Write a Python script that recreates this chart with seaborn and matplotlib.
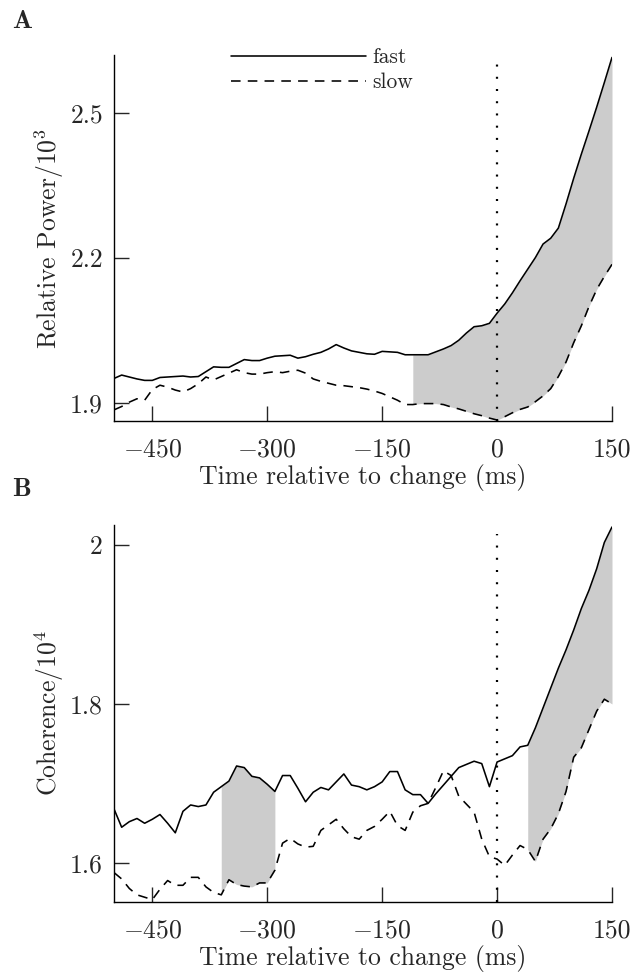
import numpy as np
import pandas as pd
import matplotlib
matplotlib.use("Agg")
import matplotlib.pyplot as plt
import seaborn as sns

# ---------------- data ----------------
time_ms = list(range(-500, 151, 10))

power_fast = [1.951, 1.958, 1.954, 1.950, 1.947, 1.947, 1.953, 1.954, 1.955, 1.956,
              1.954, 1.955, 1.965, 1.975, 1.974, 1.974, 1.982, 1.990, 1.988, 1.988,
              1.993, 1.997, 1.998, 1.999, 1.993, 1.996, 2.001, 2.005, 2.012, 2.021,
              2.014, 2.008, 2.005, 2.002, 2.001, 2.007, 2.006, 2.005, 2.000, 2.000,
              2.000, 2.000, 2.006, 2.012, 2.019, 2.030, 2.045, 2.058, 2.060, 2.065,
              2.086, 2.105, 2.128, 2.153, 2.177, 2.201, 2.229, 2.241, 2.262, 2.312,
              2.365, 2.415, 2.463, 2.512, 2.563, 2.615]
power_slow = [1.886, 1.893, 1.902, 1.909, 1.906, 1.928, 1.937, 1.933, 1.927, 1.923,
              1.930, 1.940, 1.954, 1.948, 1.955, 1.962, 1.969, 1.963, 1.960, 1.960,
              1.963, 1.965, 1.963, 1.966, 1.968, 1.962, 1.950, 1.945, 1.941, 1.937,
              1.936, 1.934, 1.932, 1.929, 1.925, 1.920, 1.913, 1.906, 1.897, 1.897,
              1.899, 1.899, 1.899, 1.897, 1.892, 1.888, 1.883, 1.878, 1.874, 1.869,
              1.865, 1.872, 1.880, 1.887, 1.892, 1.903, 1.915, 1.930, 1.955, 1.985,
              2.025, 2.060, 2.100, 2.135, 2.162, 2.187]

coh_fast = [1.668, 1.645, 1.652, 1.656, 1.650, 1.655, 1.661, 1.650, 1.638, 1.665,
            1.673, 1.671, 1.673, 1.689, 1.696, 1.703, 1.722, 1.720, 1.709, 1.707,
            1.699, 1.690, 1.710, 1.710, 1.694, 1.677, 1.689, 1.695, 1.692, 1.702,
            1.712, 1.698, 1.696, 1.692, 1.696, 1.702, 1.715, 1.715, 1.692, 1.686,
            1.686, 1.675, 1.687, 1.698, 1.709, 1.720, 1.724, 1.728, 1.725, 1.696,
            1.727, 1.731, 1.735, 1.746, 1.748, 1.770, 1.795, 1.820, 1.845, 1.868,
            1.893, 1.920, 1.943, 1.970, 2.003, 2.0225]
coh_slow = [1.588, 1.580, 1.568, 1.560, 1.557, 1.554, 1.567, 1.578, 1.572, 1.572,
            1.582, 1.582, 1.570, 1.563, 1.560, 1.579, 1.573, 1.571, 1.570, 1.575,
            1.575, 1.591, 1.625, 1.631, 1.624, 1.620, 1.621, 1.641, 1.648, 1.655,
            1.643, 1.633, 1.630, 1.641, 1.646, 1.655, 1.665, 1.647, 1.641, 1.664,
            1.672, 1.675, 1.695, 1.716, 1.710, 1.684, 1.674, 1.664, 1.630, 1.608,
            1.605, 1.597, 1.610, 1.622, 1.617, 1.602, 1.630, 1.643, 1.662, 1.690,
            1.733, 1.745, 1.768, 1.791, 1.806, 1.800]

# significant windows (ms)
power_sig = [(-110, 150)]
coh_sig = [(-360, -290), (40, 150)]

x_ticks = [-450, -300, -150, 0, 150]
power_yticks = [1.9, 2.2, 2.5]
coh_yticks = [1.6, 1.8, 2.0]
power_ylim = (1.863, 2.62)
coh_ylim = (1.551, 2.025)

# ---------------- style ----------------
sns.set_style("ticks")
plt.rcParams["font.family"] = ["cmr10", "DejaVu Serif"]
plt.rcParams["mathtext.fontset"] = "cm"
plt.rcParams["axes.formatter.use_mathtext"] = True
plt.rcParams["axes.unicode_minus"] = True

FS = 18.5

fig = plt.figure(figsize=(6.36, 9.76), dpi=100)
axA = fig.add_axes([114/636, 1-421/976, (612-114)/636, (421-55)/976])
axB = fig.add_axes([114/636, 1-902/976, (612-114)/636, (902-525)/976])

def draw(ax, fast, slow, sig, yticks, ylim, ylabel, ytfmt, legend):
    df = pd.DataFrame({"t": time_ms, "fast": fast, "slow": slow})
    t = np.array(time_ms)
    f = np.array(fast)
    s = np.array(slow)
    for a, b in sig:
        m = (t >= a) & (t <= b)
        ax.fill_between(t[m], s[m], f[m], color="#cccccc", lw=0, zorder=1)
    sns.lineplot(data=df, x="t", y="fast", color="black", lw=1.15, ax=ax,
                 label="fast" if legend else None, zorder=3)
    sns.lineplot(data=df, x="t", y="slow", color="black", lw=1.15, ax=ax,
                 dashes=False, label="slow" if legend else None, zorder=3)
    ax.lines[-1].set_dashes((6, 4.5))
    ax.axvline(0, ymax=0.975, color="black", lw=1.6, dashes=(0.9, 4.6), zorder=2)
    ax.set_xlim(-500, 150)
    ax.set_ylim(*ylim)
    ax.set_xticks(x_ticks)
    ax.set_xticklabels([("$-$%d" % -v) if v < 0 else "%d" % v for v in x_ticks])
    ax.set_yticks(yticks)
    ax.set_yticklabels([ytfmt(v) for v in yticks])
    ax.tick_params(direction="in", length=11, width=1.0, labelsize=FS, pad=8)
    ax.tick_params(axis="x", pad=12)
    for sp in ("top", "right"):
        ax.spines[sp].set_visible(False)
    for sp in ("left", "bottom"):
        ax.spines[sp].set_linewidth(1.0)
        ax.spines[sp].set_color("black")
    ax.set_xlabel("Time relative to change (ms)", fontsize=FS, labelpad=2)
    ax.set_ylabel(ylabel, fontsize=FS, labelpad=3)
    if legend:
        leg = ax.legend(loc="upper left", bbox_to_anchor=(0.234, 1.02), frameon=False,
                        handlelength=6.3, handletextpad=0.3, labelspacing=0.25,
                        borderpad=0, borderaxespad=0, fontsize=15.5)
        leg.get_lines()[1].set_dashes((6, 4.5))
    else:
        lg = ax.get_legend()
        if lg:
            lg.remove()

draw(axA, power_fast, power_slow, power_sig, power_yticks, power_ylim,
     "Relative Power/10$^3$", lambda v: "%.1f" % v, True)
draw(axB, coh_fast, coh_slow, coh_sig, coh_yticks, coh_ylim,
     "Coherence/10$^4$", lambda v: ("%d" % v) if abs(v - round(v)) < 1e-9 else "%.1f" % v, False)

fig.text(12/636, 1-22/976, "A", fontsize=19, family="cmb10", va="center", ha="left")
fig.text(12/636, 1-490/976, "B", fontsize=19, family="cmb10", va="center", ha="left")

fig.savefig("out.png", dpi=100)
